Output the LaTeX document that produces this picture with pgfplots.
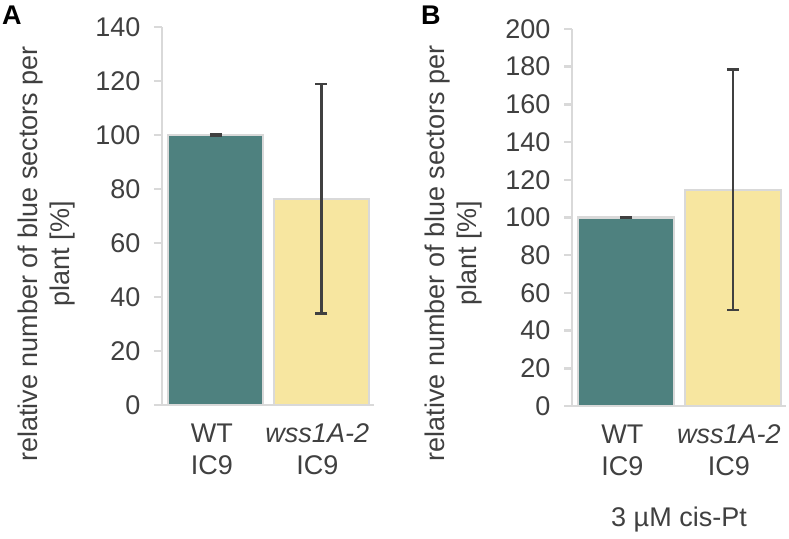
\documentclass[border=0pt]{standalone}
\usepackage{pgfplots}
\pgfplotsset{compat=1.18}
\usepackage{fontspec}
\setmainfont{Liberation Sans}
\definecolor{tealbar}{RGB}{78,129,127}
\definecolor{yellowbar}{RGB}{247,230,160}
\definecolor{lightg}{RGB}{217,217,217}
\definecolor{txt}{RGB}{64,64,64}
\definecolor{errc}{RGB}{64,64,64}
\newcommand{\fs}{\fontsize{27}{32}\selectfont}
\pgfplotsset{
 panel/.style={
  scale only axis, anchor=south west,
  xmin=-0.51, xmax=1.5, ymin=0,
  axis x line*=bottom, axis y line*=left,
  axis line style={lightg, line width=2.5pt},
  ybar, bar width=0.9,
  xtick={0,1}, xticklabels={{WT\\IC9},{\textit{wss1A-2}\\IC9}},
  x tick label style={align=center, font=\fs, text=txt, yshift=-7pt, xshift=-4pt},
  y tick label style={font=\fs, text=txt, xshift=-10pt},
  major x tick style={draw=none},
  major y tick style={lightg, line width=2.5pt},
  tick align=outside, major tick length=8pt,
  /pgf/number format/assume math mode=true,
  ylabel={relative number of blue sectors per\\plant [\%]},
  ylabel style={align=center, font=\fs, text=txt, anchor=center},
  clip=false,
 },
 bars/.style={draw=lightg, line width=2.2pt, bar shift=0pt,
  /pgfplots/error bars/y dir=both, /pgfplots/error bars/y explicit,
  /pgfplots/error bars/error bar style={errc, line width=2.5pt},
  /pgfplots/error bars/error mark options={rotate=90, errc, mark size=6pt, line width=2.5pt}},
}
\begin{document}
\begin{tikzpicture}
\useasboundingbox (0,0) rectangle (789pt,538pt);
\begin{axis}[panel, at={(162pt,133pt)}, width=212pt, height=378pt,
  ymax=140, ytick={0,20,...,140},
  ylabel style={at={(rel axis cs:-0.545,0.40)}}]
\addplot[fill=tealbar, bars] coordinates {(0,100) +- (0,0.3)};
\addplot[fill=yellowbar, bars] coordinates {(1,76.3) +- (0,42.5)};
\end{axis}
\begin{axis}[panel, at={(572pt,132pt)}, width=214pt, height=377pt,
  ymax=200, ytick={0,20,...,200},
  ylabel style={at={(rel axis cs:-0.552,0.405)}}]
\addplot[fill=tealbar, bars] coordinates {(0,100) +- (0,0.3)};
\addplot[fill=yellowbar, bars] coordinates {(1,114.8) +- (0,63.8)};
\end{axis}
\node[font=\fs, text=txt, anchor=base] at (679pt,12pt) {3 µM cis-Pt};
\node[font=\fontsize{27}{32}\selectfont\bfseries, anchor=base west, inner sep=0pt] at (2pt,513pt) {A};
\node[font=\fontsize{27}{32}\selectfont\bfseries, anchor=base west, inner sep=0pt] at (421pt,513pt) {B};
\end{tikzpicture}
\end{document}
